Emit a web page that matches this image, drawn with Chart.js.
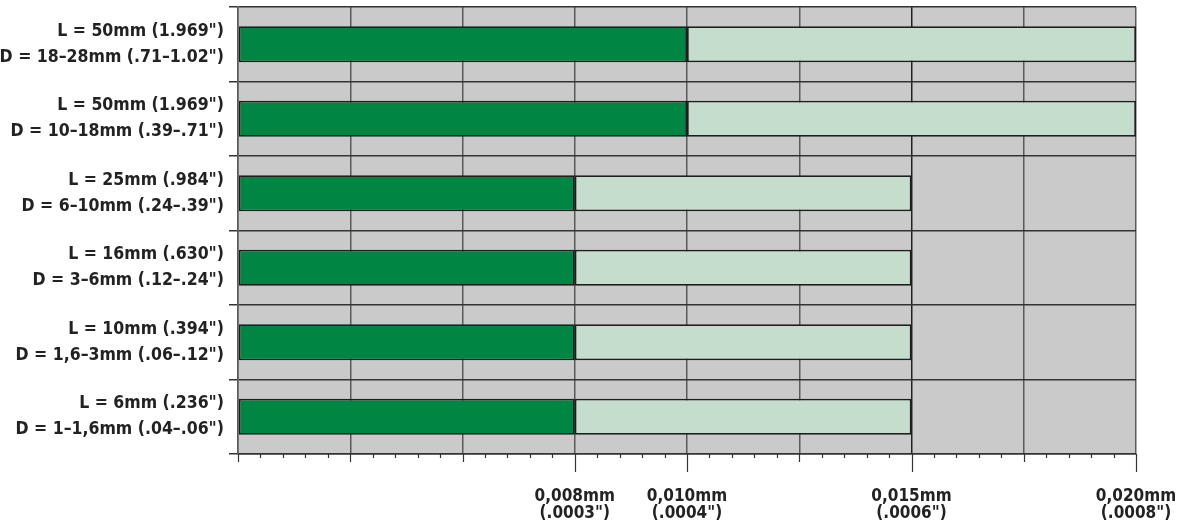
<!DOCTYPE html>
<html>
<head>
<meta charset="utf-8">
<script src="https://cdn.jsdelivr.net/npm/chart.js@4/dist/chart.umd.min.js"></script>
<style>
  html, body { margin: 0; padding: 0; background: #fff; }
  #wrap { width: 1190px; height: 521px; position: relative; }
</style>
</head>
<body>
<div id="wrap"><canvas id="tolChart"></canvas></div>
<script>
// ==================== DATA ====================
const lengthLabels = ['L = 50mm (1.969")', 'L = 50mm (1.969")', 'L = 25mm (.984")', 'L = 16mm (.630")', 'L = 10mm (.394")', 'L = 6mm (.236")'];
const diameterLabels = ['D = 18–28mm (.71–1.02")', 'D = 10–18mm (.39–.71")', 'D = 6–10mm (.24–.39")', 'D = 3–6mm (.12–.24")', 'D = 1,6–3mm (.06–.12")', 'D = 1–1,6mm (.04–.06")'];
const tolLow = [0.010, 0.010, 0.008, 0.008, 0.008, 0.008];   // mm, dark green end
const tolHigh = [0.020, 0.020, 0.015, 0.015, 0.015, 0.015];  // mm, light green end
const tickMm = [0.008, 0.010, 0.015, 0.020];
const tickInch = ['(.0003")', '(.0004")', '(.0006")', '(.0008")'];
const tickSlot = [3, 4, 6, 8];   // grid slot of each labelled tick (axis is not linear)

// mm value -> grid slot on the axis
function slotOf(mm) {
    return tickSlot[tickMm.indexOf(mm)];
}

const FONT = "'DejaVu Sans Condensed', 'Liberation Sans Narrow', sans-serif";

// ==================== PLUGINS ====================
const plotBg = {
    id: 'plotBg',
    beforeDraw(chart) {
        const { ctx, chartArea: a } = chart;
        ctx.save();
        ctx.fillStyle = '#cacaca';
        ctx.fillRect(a.left, a.top, a.right - a.left, a.bottom - a.top);
        ctx.restore();
    }
};

const axisTicks = {
    id: 'axisTicks',
    afterDraw(chart) {
        const { ctx } = chart;
        const x = chart.scales.x;
        const y0 = chart.chartArea.bottom;
        ctx.save();
        ctx.strokeStyle = '#333';
        ctx.lineWidth = 1.2;
        for (let i = 0; i <= 40; i++) {
            const v = i / 5;
            let len = 4;
            if (i % 5 === 0) len = tickSlot.includes(v) ? 18 : 8;
            const px = Math.round(x.getPixelForValue(v)) + 0.5;
            ctx.beginPath();
            ctx.moveTo(px, y0);
            ctx.lineTo(px, y0 + len);
            ctx.stroke();
        }
        ctx.restore();
    }
};

// ==================== CHART ====================
const ctx = document.getElementById('tolChart').getContext('2d');
new Chart(ctx, {
    type: 'bar',
    data: {
        labels: lengthLabels.map((l, i) => [l, diameterLabels[i]]),
        datasets: [
            {
                data: tolLow.map(v => [0, slotOf(v)]),
                backgroundColor: '#008542',
                borderColor: '#1e1e1e',
                borderWidth: 1.8,
                borderSkipped: false,
                barPercentage: 0.97,
                categoryPercentage: 0.5
            },
            {
                data: tolLow.map((v, i) => [slotOf(v), slotOf(tolHigh[i])]),
                backgroundColor: '#c5ddcc',
                borderColor: '#1e1e1e',
                borderWidth: 1.8,
                borderSkipped: false,
                barPercentage: 0.97,
                categoryPercentage: 0.5
            }
        ]
    },
    options: {
        indexAxis: 'y',
        responsive: true,
        maintainAspectRatio: false,
        animation: false,
        layout: { padding: { top: 7, right: 54 } },
        plugins: { legend: { display: false }, tooltip: { enabled: false } },
        scales: {
            x: {
                type: 'linear',
                min: 0,
                max: 8,
                afterFit: s => { s.height = 67; s.paddingLeft = 0; s.paddingRight = 0; },
                ticks: {
                    stepSize: 1,
                    autoSkip: false,
                    maxRotation: 0,
                    padding: 35,
                    color: '#222',
                    font: { family: FONT, size: 17, weight: 'bold', lineHeight: 0.95 },
                    callback: v => {
                        const k = tickSlot.indexOf(v);
                        return k < 0 ? '' : [tickMm[k].toFixed(3).replace('.', ',') + 'mm', tickInch[k]];
                    }
                },
                grid: {
                    drawTicks: false,
                    lineWidth: 1.5,
                    color: c => (c.tick && c.tick.value === 6 ? '#222' : '#5a5a5a')
                },
                border: { color: '#333', width: 1.5 }
            },
            y: {
                stacked: true,
                afterFit: s => { s.width = 238; s.paddingTop = 0; s.paddingBottom = 0; },
                ticks: {
                    padding: 5,
                    color: '#222',
                    font: { family: FONT, size: 17.5, weight: 'bold', lineHeight: 1.49 }
                },
                grid: {
                    offset: true,
                    tickLength: 9,
                    lineWidth: 1.5,
                    color: '#333'
                },
                border: { color: '#5a5a5a', width: 1.5 }
            }
        }
    },
    plugins: [plotBg, axisTicks]
});
</script>
</body>
</html>
